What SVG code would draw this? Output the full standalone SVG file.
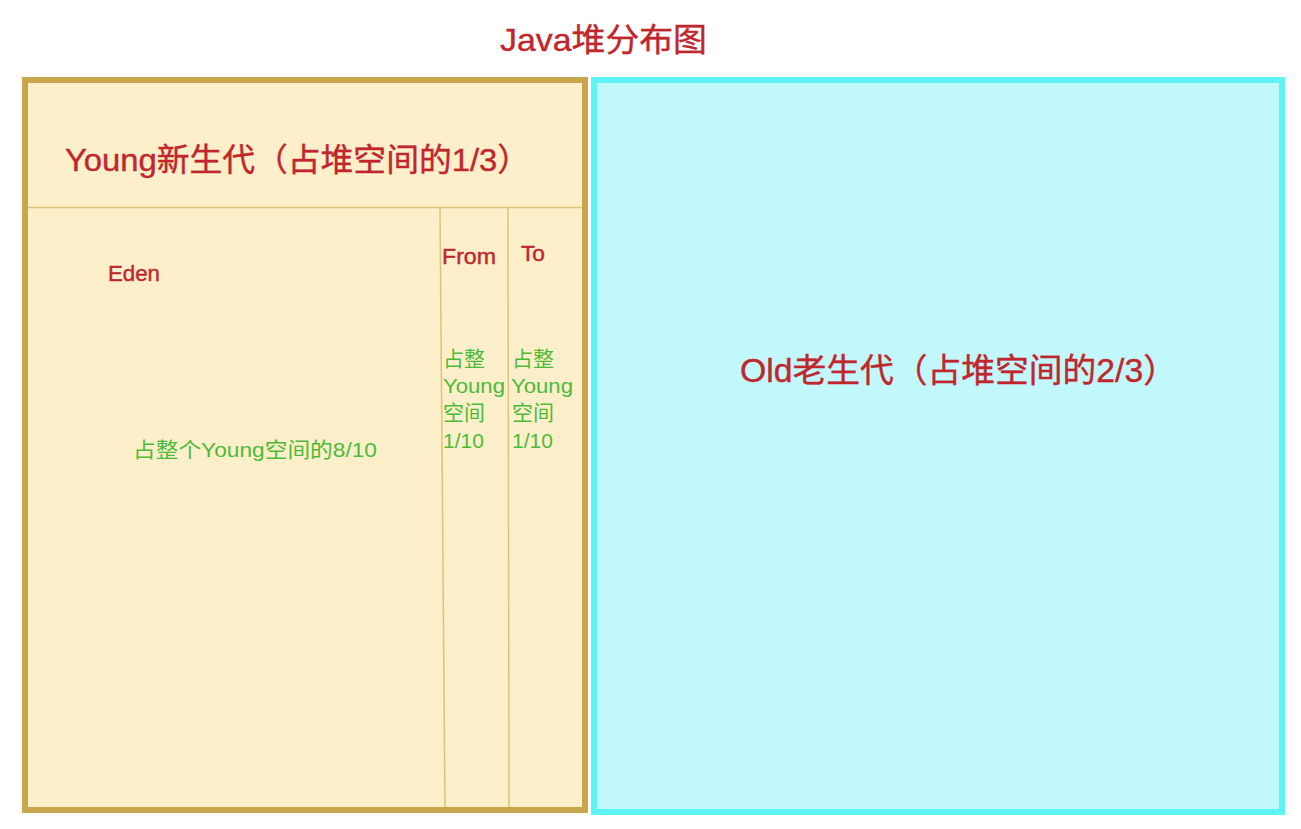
<svg xmlns="http://www.w3.org/2000/svg" width="1301" height="829" viewBox="0 0 1301 829">
  <style>
    .red { fill: #c0272d; stroke: #c0272d; stroke-width: 0.4; font-family: "Liberation Sans", "Noto Sans CJK SC", sans-serif; }
    .green { fill: #4cbb3a; font-family: "Liberation Sans", "Noto Sans CJK SC", sans-serif; font-size: 21px; }
    .divider { stroke: #dcc37c; stroke-width: 1.5; fill: none; }
  </style>
  <rect x="0" y="0" width="1301" height="829" fill="#ffffff"/>
  <g id="title">
    <text class="red" x="500" y="51" font-size="32" textLength="207" lengthAdjust="spacingAndGlyphs">Java堆分布图</text>
  </g>
  <g id="young">
    <rect x="25" y="80" width="560" height="730" fill="#fdefc9" stroke="#c9a64b" stroke-width="6"/>
    <line class="divider" x1="28" y1="207.5" x2="582" y2="207.5"/>
    <text class="red" x="65" y="171" font-size="32" textLength="465" lengthAdjust="spacingAndGlyphs">Young新生代（占堆空间的1/3）</text>
  </g>
  <g id="eden">
    <line class="divider" x1="440" y1="208" x2="445" y2="807"/>
    <text class="red" x="108" y="281" font-size="22" textLength="52" lengthAdjust="spacingAndGlyphs">Eden</text>
    <text class="green" x="133" y="457" textLength="244" lengthAdjust="spacingAndGlyphs">占整个Young空间的8/10</text>
  </g>
  <g id="from">
    <line class="divider" x1="508" y1="208" x2="509" y2="807"/>
    <text class="red" x="442" y="264" font-size="22" textLength="54" lengthAdjust="spacingAndGlyphs">From</text>
    <text class="green" x="443" y="366" font-size="22">占整</text>
    <text class="green" x="443" y="393" font-size="22" textLength="62" lengthAdjust="spacingAndGlyphs">Young</text>
    <text class="green" x="443" y="420" font-size="22">空间</text>
    <text class="green" x="443" y="448" font-size="22">1/10</text>
  </g>
  <g id="to">
    <text class="red" x="521" y="261" font-size="22" textLength="24" lengthAdjust="spacingAndGlyphs">To</text>
    <text class="green" x="512" y="366" font-size="22">占整</text>
    <text class="green" x="511" y="393" font-size="22" textLength="62" lengthAdjust="spacingAndGlyphs">Young</text>
    <text class="green" x="512" y="420" font-size="22">空间</text>
    <text class="green" x="512" y="448" font-size="22">1/10</text>
  </g>
  <g id="old">
    <rect x="594" y="80" width="688" height="732" fill="#c2f8fb" stroke="#5ef3f5" stroke-width="6"/>
    <text class="red" x="740" y="382" font-size="33" textLength="437" lengthAdjust="spacingAndGlyphs">Old老生代（占堆空间的2/3）</text>
  </g>
</svg>
